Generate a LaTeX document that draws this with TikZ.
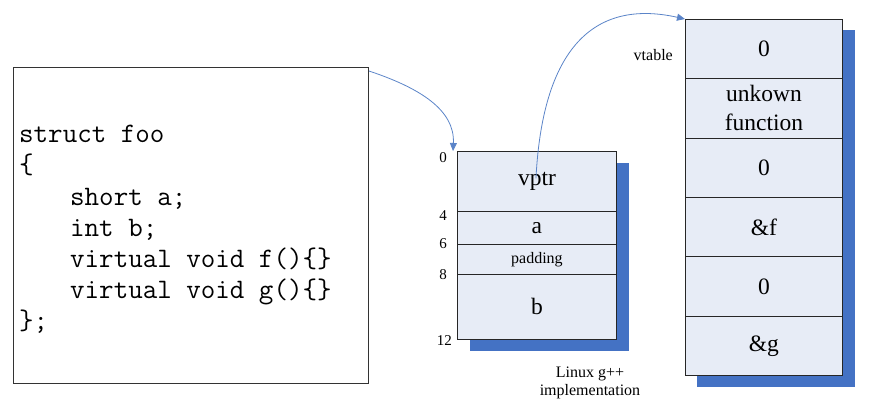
\documentclass[tikz,border=0pt]{standalone}
\usepackage{fontspec}
\setmainfont{Liberation Serif}
\usetikzlibrary{arrows.meta,calc}
\definecolor{cellfill}{HTML}{E7ECF6}
\definecolor{shadowblue}{HTML}{4472C4}
\definecolor{arrowblue}{HTML}{5B84C8}
\begin{document}
\begin{tikzpicture}[x=1pt,y=-1pt,
  cell/.style={draw=black!85,fill=cellfill,line width=0.9pt,inner sep=0pt,anchor=north west,minimum width=#1},
  shadowbox/.style={fill=shadowblue,draw=none},
  codeline/.style={anchor=base west,inner sep=0pt,font=\fontsize{28.2}{31}\selectfont\ttfamily},
  offs/.style={anchor=base east,inner sep=0pt,font=\fontsize{15}{17}\selectfont},
  big/.style={font=\fontsize{23.5}{27}\selectfont},
  conn/.style={draw=arrowblue,line width=0.8pt,-{Triangle[length=8pt,width=7pt]}}
]
\useasboundingbox (0,0) rectangle (878,418);
% code box
\node[draw=black!80,line width=1pt,inner sep=0pt,minimum width=355,minimum height=316,anchor=north west] (code) at (13,67) {};
\node[codeline] (l1) at (19,142) {struct foo};
\node[codeline] (l2) at (19,173) {\{};
\node[codeline] (l3) at (70,205) {short a;};
\node[codeline] (l4) at (70,236) {int b;};
\node[codeline] (l5) at (70,267) {virtual void f()\{\}};
\node[codeline] (l6) at (70,298) {virtual void g()\{\}};
\node[codeline] (l7) at (19,329) {\};};
% struct layout
\fill[shadowbox] (470,163) rectangle (629,351);
\node[cell=159,minimum height=60,big] (vptr) at (457,151) {vptr};
\node[cell=159,minimum height=33,big] (fa) at (457,211) {a};
\node[cell=159,minimum height=30,font=\fontsize{16}{18}\selectfont] (pad) at (457,244) {padding};
\node[cell=159,minimum height=65,big] (fb) at (457,274) {b};
\node[offs] (o0) at (447,162) {0};
\node[offs] (o4) at (447,220) {4};
\node[offs] (o6) at (447,248) {6};
\node[offs] (o8) at (447,279) {8};
\node[offs] (o12) at (452,345) {12};
\node[align=center,inner sep=0pt,font=\fontsize{16}{18}\selectfont] (impl) at (590,383) {Linux g++\\implementation};
% vtable
\fill[shadowbox] (697,30) rectangle (855,387);
\node[cell=157,minimum height=59.33,big] (v1) at (685,19) {0};
\node[cell=157,minimum height=59.33,align=center,font=\fontsize{23.5}{29}\selectfont] (v2) at (685,78.33) {unkown\\function};
\node[cell=157,minimum height=59.33,big] (v3) at (685,137.67) {0};
\node[cell=157,minimum height=59.33,big] (v4) at (685,197) {\&f};
\node[cell=157,minimum height=59.33,big] (v5) at (685,256.33) {0};
\node[cell=157,minimum height=59.33,big] (v6) at (685,315.67) {\&g};
\node[anchor=base east,inner sep=0pt,font=\fontsize{16}{18}\selectfont] (vtl) at (673,60) {vtable};
% connectors
\coordinate (cstart) at ($(code.north east)+(0,4)$);
\draw[conn] (cstart) .. controls (420,88) and (455,110) .. ([xshift=-4pt]vptr.north west);
\draw[conn] ([xshift=-1pt,yshift=3pt]vptr.center) .. controls (543,40) and (600,0) .. (v1.north west);
\end{tikzpicture}
\end{document}
